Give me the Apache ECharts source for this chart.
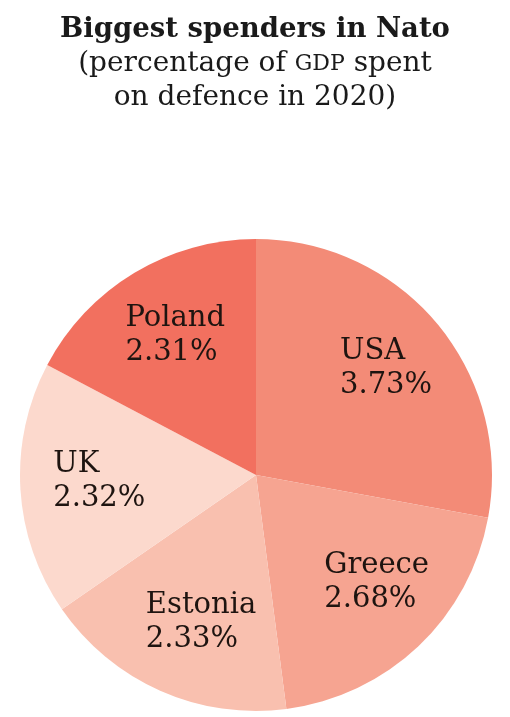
<!DOCTYPE html>
<html>
<head>
<meta charset="utf-8">
<script src="https://cdn.jsdelivr.net/npm/echarts@6/dist/echarts.min.js"></script>
<style>
  html, body { margin: 0; padding: 0; background: #fff; }
  #chart { width: 510px; height: 717px; }
</style>
</head>
<body>
<div id="chart"></div>
<script>
  // data
  var countries = ['USA', 'Greece', 'Estonia', 'UK', 'Poland'];
  var spending = [3.73, 2.68, 2.33, 2.32, 2.31];
  var valueLabels = ['3.73%', '2.68%', '2.33%', '2.32%', '2.31%'];

  // styling
  var sliceColors = ['#f38b77', '#f6a491', '#f9c0af', '#fcd9cd', '#f2705f'];
  var labelOffsets = [[46, -29], [40, 20], [-6, 37], [-27, -1], [-13, -36]];
  var serif = 'DejaVu Serif';

  var myChart = echarts.init(document.getElementById('chart'));

  var pieData = countries.map(function (name, i) {
    return {
      name: name,
      value: spending[i],
      itemStyle: { color: sliceColors[i] },
      label: { offset: labelOffsets[i] }
    };
  });

  var option = {
    animation: false,
    backgroundColor: '#fff',
    title: {
      left: 'center',
      top: 8,
      text: '{b|Biggest spenders in Nato}\n{n|(percentage of }{sc|GDP}{n| spent}\n{n|on defence in 2020)}',
      textStyle: {
        rich: {
          b: { fontFamily: serif, fontWeight: 'bold', fontSize: 27.5, lineHeight: 34, color: '#1a1a1a' },
          n: { fontFamily: serif, fontWeight: 'normal', fontSize: 28, lineHeight: 34, color: '#1a1a1a' },
          sc: { fontFamily: serif, fontWeight: 'normal', fontSize: 22, lineHeight: 34, color: '#1a1a1a' }
        }
      }
    },
    series: [{
      type: 'pie',
      center: [256, 475],
      radius: [0, 236],
      startAngle: 90,
      clockwise: true,
      silent: true,
      emphasis: { disabled: true },
      itemStyle: { borderWidth: 0 },
      label: {
        show: true,
        position: 'inside',
        formatter: function (p) {
          return '{t|' + p.name + '}\n{t|' + valueLabels[p.dataIndex] + '}';
        },
        rich: {
          t: { fontFamily: serif, fontSize: 29, lineHeight: 34, color: '#1e1410', width: 110, align: 'left' }
        }
      },
      labelLine: { show: false },
      data: pieData
    }]
  };

  myChart.setOption(option);
</script>
</body>
</html>
